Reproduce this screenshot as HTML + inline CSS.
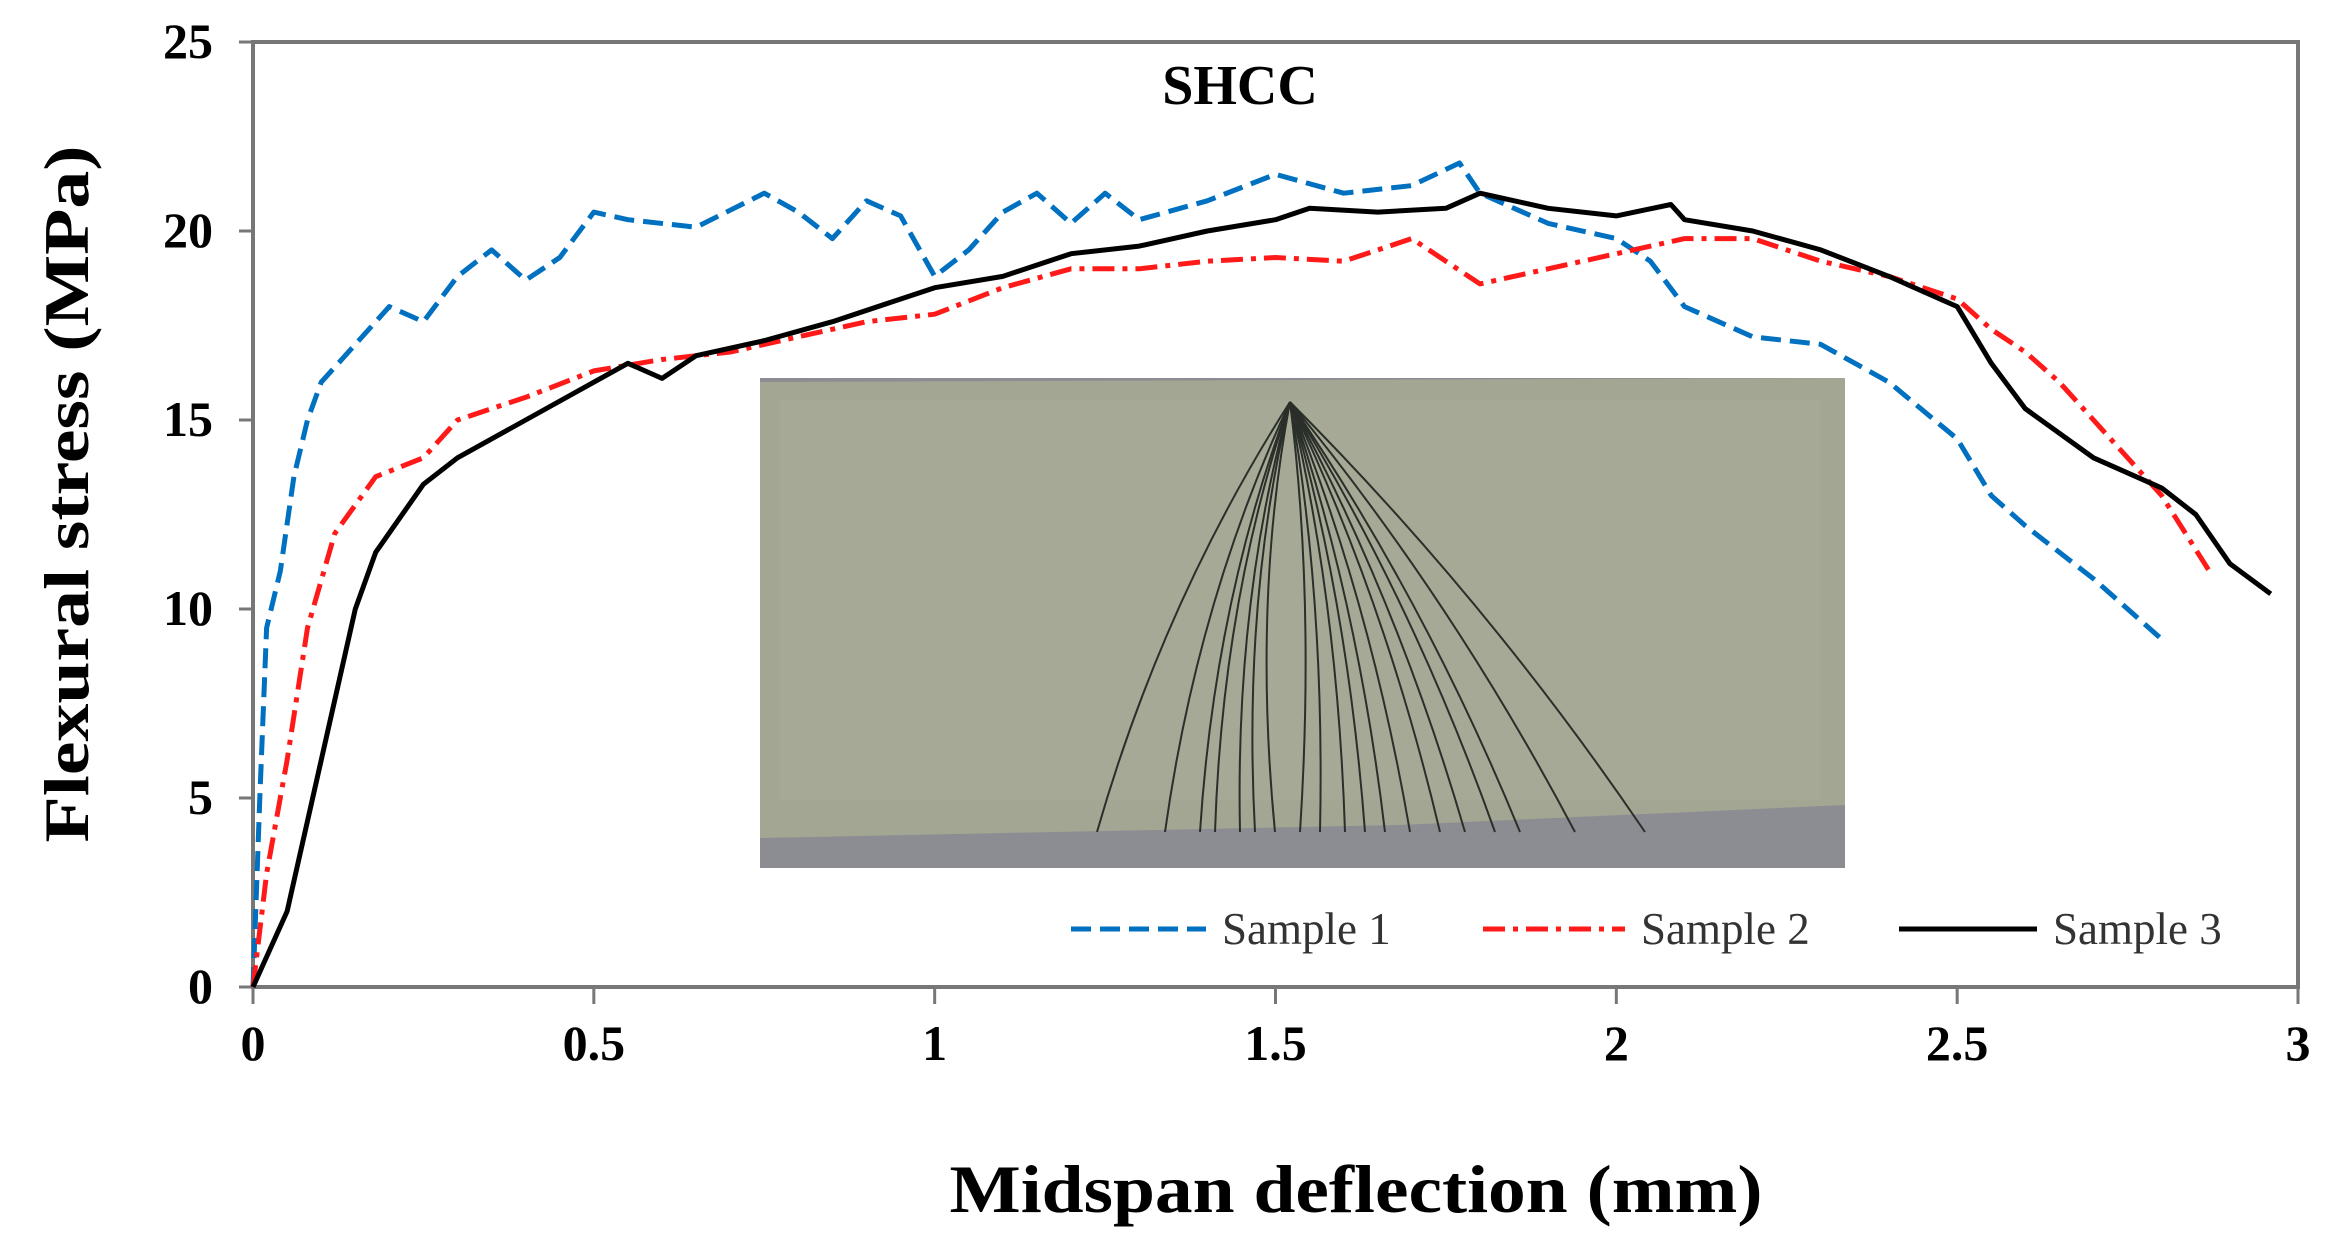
<!DOCTYPE html>
<html><head><meta charset="utf-8"><style>
html,body{margin:0;padding:0;background:#fff;}
svg{display:block;font-family:"Liberation Serif",serif;}
</style></head><body>
<svg id="chart" width="2336" height="1259" viewBox="0 0 2336 1259" xmlns="http://www.w3.org/2000/svg">
<g id="photo">
  <rect x="760" y="378" width="1085" height="490" fill="#8c8d93"/>
  <polygon points="760,382 1845,378 1845,805 1400,825 760,838" fill="#a2a693"/>
  <rect x="780" y="400" width="1040" height="400" fill="#a7ab98" opacity="0.6"/>
  <g id="cracks" fill="none" stroke="#2a2f2a" stroke-width="2"></g>
</g>
<g id="frame"></g>
<g id="series"></g>
<g id="labels"></g>
</svg>
<script>
const xTicks=[0,0.5,1,1.5,2,2.5,3];
const xTickLabels=["0","0.5","1","1.5","2","2.5","3"];
const yTicks=[0,5,10,15,20,25];
const yTickLabels=["0","5","10","15","20","25"];
const s1x=[0,0.01,0.02,0.04,0.06,0.08,0.1,0.15,0.2,0.25,0.3,0.35,0.4,0.45,0.5,0.55,0.65,0.75,0.8,0.85,0.9,0.95,1.0,1.05,1.1,1.15,1.2,1.25,1.3,1.4,1.5,1.6,1.7,1.77,1.8,1.9,2.0,2.05,2.1,2.2,2.3,2.4,2.5,2.55,2.6,2.7,2.8];
const s1y=[0,5,9.5,11,13.5,15,16,17,18,17.6,18.8,19.5,18.7,19.3,20.5,20.3,20.1,21,20.5,19.8,20.8,20.4,18.8,19.5,20.5,21,20.2,21,20.3,20.8,21.5,21,21.2,21.8,21,20.2,19.8,19.2,18,17.2,17,16,14.5,13,12.2,10.8,9.2];
const s2x=[0,0.02,0.05,0.08,0.12,0.18,0.25,0.3,0.4,0.5,0.6,0.7,0.8,0.9,1.0,1.1,1.2,1.3,1.4,1.5,1.6,1.7,1.8,1.9,2.0,2.1,2.2,2.3,2.4,2.5,2.55,2.6,2.65,2.7,2.8,2.87];
const s2y=[0,3,6,9.5,12,13.5,14,15,15.6,16.3,16.6,16.8,17.2,17.6,17.8,18.5,19,19,19.2,19.3,19.2,19.8,18.6,19,19.4,19.8,19.8,19.2,18.8,18.2,17.4,16.8,16,15,13,11];
const s3x=[0,0.05,0.1,0.15,0.18,0.25,0.3,0.4,0.5,0.55,0.6,0.65,0.75,0.85,1.0,1.1,1.2,1.3,1.4,1.5,1.55,1.65,1.75,1.8,1.9,2.0,2.08,2.1,2.2,2.3,2.4,2.5,2.55,2.6,2.7,2.8,2.85,2.9,2.96];
const s3y=[0,2,6,10,11.5,13.3,14,15,16,16.5,16.1,16.7,17.1,17.6,18.5,18.8,19.4,19.6,20,20.3,20.6,20.5,20.6,21,20.6,20.4,20.7,20.3,20,19.5,18.8,18,16.5,15.3,14,13.2,12.5,11.2,10.4];

const NS="http://www.w3.org/2000/svg";
const X0=253,X1=2298,Y0=987,Y1=42;
const sx=v=>X0+(v-0)/(3-0)*(X1-X0);
const sy=v=>Y0-(v-0)/(25-0)*(Y0-Y1);
function mk(tag,attrs,parent){const e=document.createElementNS(NS,tag);for(const k in attrs)e.setAttribute(k,attrs[k]);parent.appendChild(e);return e;}
const frame=document.getElementById('frame'),series=document.getElementById('series'),labels=document.getElementById('labels');
let r=mk('rect',{x:X0,y:Y1,width:X1-X0,height:Y0-Y1,fill:'none',stroke:'#777',"stroke-width":4},frame);


xTicks.forEach((t,i)=>{
  let l=mk('line',{x1:sx(t),x2:sx(t),y1:Y0,y2:Y0+17,stroke:'#777',"stroke-width":3},frame);
  
  
  let tx=mk('text',{x:sx(t),y:1060,"text-anchor":"middle","font-size":50,"font-weight":"bold"},labels);
  tx.textContent=xTickLabels[i];
  
  
});
yTicks.forEach((t,i)=>{
  let l=mk('line',{x1:X0-14,x2:X0,y1:sy(t),y2:sy(t),stroke:'#777',"stroke-width":3},frame);
  
  
  let tx=mk('text',{x:213,y:sy(t)+16,"text-anchor":"end","font-size":50,"font-weight":"bold"},labels);
  tx.textContent=yTickLabels[i];
  
  
});
function pts(xs,ys){return xs.map((v,i)=>sx(v).toFixed(1)+','+sy(ys[i]).toFixed(1)).join(' ');}
let p1=mk('polyline',{points:pts(s1x,s1y),fill:'none',stroke:'#0070c0',"stroke-width":5,"stroke-dasharray":"20 9","stroke-linejoin":"round"},series);


let p2=mk('polyline',{points:pts(s2x,s2y),fill:'none',stroke:'#ff1a1a',"stroke-width":5,"stroke-dasharray":"22 8 5 8","stroke-linejoin":"round"},series);


let p3=mk('polyline',{points:pts(s3x,s3y),fill:'none',stroke:'#000',"stroke-width":5,"stroke-linejoin":"round"},series);


// legend
const leg=[["Sample 1",1071,1206,"#0070c0","20 9"],["Sample 2",1483,1625,"#ff1a1a","22 8 5 8"],["Sample 3",1899,2037,"#000","none"]];
leg.forEach(d=>{
  let l=mk('line',{x1:d[1],x2:d[2],y1:929,y2:929,stroke:d[3],"stroke-width":5,"stroke-dasharray":d[4]},labels);
  
  
  let t=mk('text',{x:d[2]+16,y:944,"font-size":45,fill:'#333'},labels);
  t.textContent=d[0];
  
  
});
let t1=mk('text',{x:1240,y:104,"text-anchor":"middle","font-size":56,"font-weight":"bold"},labels);
t1.textContent="SHCC";


let t2=mk('text',{x:1356,y:1212,"text-anchor":"middle","font-size":68,"font-weight":"bold",textLength:813,lengthAdjust:"spacingAndGlyphs"},labels);
t2.textContent="Midspan deflection (mm)";


let t3=mk('text',{x:0,y:0,"text-anchor":"middle","font-size":64,"font-weight":"bold",textLength:697,lengthAdjust:"spacingAndGlyphs",transform:"translate(88,494) rotate(-90)"},labels);
t3.textContent="Flexural stress (MPa)";


// cracks in photo (decorative)
const cracks=document.getElementById('cracks');
const ends=[1097,1165,1200,1215,1240,1255,1275,1300,1320,1345,1365,1385,1410,1440,1465,1495,1520,1575,1645];
ends.forEach((ex,i)=>{
  const ax=1290, ay=402;
  const mx=(ax+ex)/2+(ex<ax?-30:20), my=600;
  let c=mk('path',{d:`M${ax},${ay} Q${mx},${my} ${ex},832`},cracks);
  
  
});
</script>
</body></html>
